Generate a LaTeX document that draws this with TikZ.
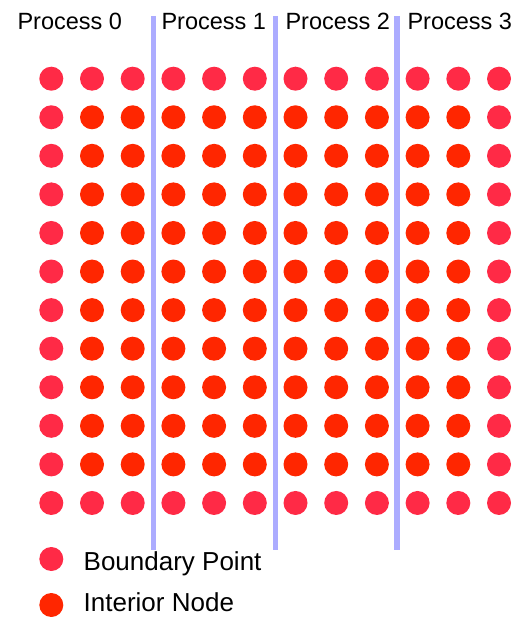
\documentclass[tikz,border=0pt]{standalone}
\usepackage{fontspec}
\setmainfont{Liberation Sans}
\definecolor{bnd}{RGB}{255,42,70}
\definecolor{intr}{RGB}{255,38,0}
\definecolor{sep}{RGB}{172,172,255}
\tikzset{
  dot/.style={circle,inner sep=0pt,minimum size=24pt},
  bdot/.style={dot,fill=bnd},
  idot/.style={dot,fill=intr},
  lab/.style={anchor=base west,inner sep=0pt,font=\fontsize{23.5pt}{26pt}\selectfont},
  leglab/.style={anchor=base west,inner sep=0pt,font=\fontsize{26pt}{28pt}\selectfont},
  sepline/.style={draw=sep,line width=5.5pt}
}
\begin{document}
\begin{tikzpicture}[x=1pt,y=-1pt]
\useasboundingbox (0,0) rectangle (516,617);
% separators
\foreach \k/\x in {1/153.5,2/275.3,3/397}{
  \coordinate (s\k t) at (\x,16);
  \coordinate (s\k b) at (\x,549.5);
  \draw[sepline] (s\k t) -- (s\k b);
}
% titles
\node[lab] (p0) at (17.3,30) {Process 0};
\node[lab] (p1) at (161.3,30) {Process 1};
\node[lab] (p2) at (285.3,30) {Process 2};
\node[lab] (p3) at (407.3,30) {Process 3};
% grid
\foreach \i in {0,...,11}{
  \foreach \j in {0,...,11}{
    \pgfmathsetmacro{\xx}{51.3+40.7*\i}
    \pgfmathsetmacro{\yy}{78.7+38.57*\j}
    \ifnum\i=0 \def\st{bdot}\else
    \ifnum\i=11 \def\st{bdot}\else
    \ifnum\j=0 \def\st{bdot}\else
    \ifnum\j=11 \def\st{bdot}\else
    \def\st{idot}\fi\fi\fi\fi
    \node[\st] (d-\i-\j) at (\xx,\yy) {};
  }
}
% legend
\node[bdot] (lb) at (51.3,559) {};
\node[leglab] (lbt) at (83.5,570.7) {Boundary Point};
\node[idot] (li) at (51.3,605) {};
\node[leglab] (lit) at (83.5,611) {Interior Node};
\end{tikzpicture}
\end{document}
